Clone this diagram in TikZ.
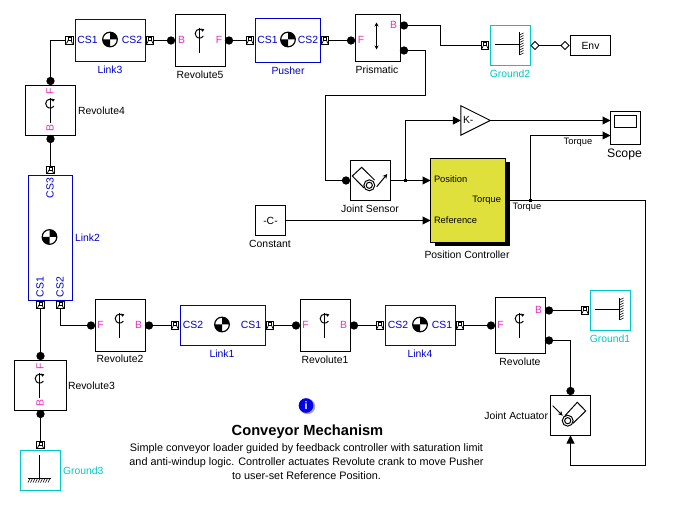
\documentclass[tikz,border=0pt]{standalone}
\usepackage{fontspec}
\setmainfont{Liberation Sans}
\usetikzlibrary{arrows.meta,shapes.geometric}
\definecolor{mblue}{RGB}{0,0,200}
\definecolor{mcyan}{RGB}{0,200,200}
\definecolor{mpink}{RGB}{228,50,190}
\definecolor{myellow}{RGB}{224,224,60}
\definecolor{iblue}{RGB}{0,0,235}
\tikzset{
  x=0.75pt,y=-0.75pt,
  every path/.style={line width=0.75pt},
  blockbox/.style={draw=black,fill=white,inner sep=0pt,outer sep=0pt,line width=0.75pt},
  bodybox/.style={blockbox,draw=mblue},
  gndbox/.style={blockbox,draw=mcyan},
  txt/.style={inner sep=0pt,outer sep=0pt,font=\fontsize{7.8pt}{9pt}\selectfont,text=black},
  btxt/.style={txt,text=mblue},
  ptxt/.style={txt,text=mpink},
  ctxt/.style={txt,text=mcyan},
  stxt/.style={txt,font=\fontsize{7pt}{9pt}\selectfont},
  dot/.style={circle,fill=black,draw=black,inner sep=0pt,outer sep=0pt,minimum size=5.4pt},
  junc/.style={rectangle,fill=black,inner sep=0pt,outer sep=0pt,minimum size=2.6pt},
  dia/.style={diamond,draw=black,fill=white,inner sep=0pt,outer sep=0pt,minimum size=6pt},
  port/.style={rectangle,draw=black,fill=white,inner sep=0pt,outer sep=0pt,minimum size=5.4pt,
    path picture={\begin{scope}[shift={(path picture bounding box.center)},rotate=#1]
      \draw[line width=0.55pt] (-1.2pt,0pt) rectangle (1.2pt,2.2pt);
      \draw[line width=0.55pt] (-1.2pt,0pt) -- (-2.2pt,-2.2pt) (1.2pt,0pt) -- (2.2pt,-2.2pt);
    \end{scope}}},
  port/.default=0,
  wire/.style={draw=black,line width=0.75pt},
  sig/.style={wire,-{Triangle[length=6pt,width=6pt]}},
  revicon/.pic={
    \draw (0,-6) -- (0,19);
    \draw (3.4,-3.6) arc[start angle=45,end angle=325,radius=3.4pt];
    \fill (4.8,-4.6) -- (1.6,-5.4) -- (3,-2.2) -- cycle;
  },
  massicon/.pic={
    \fill[white] (0,0) circle[radius=5.5pt];
    \fill (0,0) -- (5.5pt,0pt) arc[start angle=0,end angle=90,radius=5.5pt] -- cycle;
    \fill (0,0) -- (-5.5pt,0pt) arc[start angle=180,end angle=270,radius=5.5pt] -- cycle;
    \draw[line width=0.9pt] (0,0) circle[radius=5.5pt];
  },
}
\newcommand\blk[6][blockbox]{%
  \node[#1,minimum width={(#5-#3)*0.75pt},minimum height={(#6-#4)*0.75pt}] (#2) at ({(#3+#5)/2},{(#4+#6)/2}) {};}
\begin{document}
\begin{tikzpicture}
\fill[white] (0,0) rectangle (674,516);
\useasboundingbox (0,0) rectangle (674,516);

% wires first
\coordinate (c1) at (440.5,35);
\coordinate (c2) at (425.5,95.5);
\coordinate (c3) at (325.5,95.5);
\coordinate (c4) at (405.5,120.5);
\coordinate (c5) at (645.5,465.5);
\coordinate (c6) at (570.5,465.5);
\coordinate (c7) at (530.5,135.5);

% blocks
\blk[bodybox]{link3}{75.5}{19.5}{145.5}{61.5}
\blk{rev5}{175.5}{14.5}{225.5}{66.5}
\blk[bodybox]{pusher}{255.5}{18.5}{320.5}{62.5}
\blk{prism}{355.5}{14.5}{400.5}{61.5}
\blk[gndbox]{gnd2}{490.5}{25.5}{530.5}{65.5}
\blk{env}{570.5}{35.5}{610.5}{55.5}
\blk{rev4}{25.5}{85.5}{75.5}{135.5}
\blk[bodybox]{link2}{28.5}{175.5}{72.5}{300.5}
\blk{rev2}{95.5}{299.5}{145.5}{351.5}
\blk[bodybox]{link1}{180.5}{305.5}{265.5}{345.5}
\blk{rev1}{300.5}{299.5}{350.5}{351.5}
\blk[bodybox]{link4}{385.5}{305.5}{455.5}{345.5}
\blk{rev}{495.5}{297.5}{545.5}{353.5}
\blk[gndbox]{gnd1}{590.5}{290.5}{630.5}{330.5}
\blk{act}{550.5}{395.5}{590.5}{435.5}
\blk{rev3}{14.5}{360.5}{66.5}{410.5}
\blk[gndbox]{gnd3}{20.5}{450.5}{60.5}{490.5}
\blk{sensor}{350.5}{160.5}{390.5}{200.5}
\blk{const}{255.5}{205.5}{285.5}{235.5}
\blk{scope}{610.5}{111.5}{640.5}{144.5}
\fill (434.5,162.5) rectangle (510,246.5);
\blk[blockbox,fill=myellow]{ctrl}{430.5}{158.5}{505.5}{242.5}
\node[isosceles triangle,isosceles triangle apex angle=90,draw=black,fill=white,inner sep=0pt,outer sep=0pt,
  minimum height=22.1pt,isosceles triangle stretches,minimum width=22.1pt] (gain) at (470,120.5) {};

% icons
\pic at (110,39.5) {massicon};
\pic at (288,39.5) {massicon};
\pic at (49.5,237) {massicon};
\pic at (222,324.5) {massicon};
\pic at (420,324.5) {massicon};
\pic at (199.5,34) {revicon};
\pic at (50,104) {revicon};
\pic at (119.5,319) {revicon};
\pic at (324.5,319) {revicon};
\pic at (519.5,319) {revicon};
\pic at (39.5,379) {revicon};
\draw[{Stealth[length=3pt,width=3pt]}-{Stealth[length=3pt,width=3pt]}] (376.5,22.5) -- (376.5,49.5);
\draw[rounded corners=0] (614.5,115.5) rectangle (636.5,127.5);
% grounds
\draw (495,44.5) -- (519.5,44.5);
\draw[line width=0.9pt] (519.5,32.5) -- (519.5,55.5);
\foreach \v in {33,35.5,...,55} \draw[line width=0.45pt] (519.5,\v+2) -- (523.5,\v);
\draw (595,309.5) -- (619.5,309.5);
\draw[line width=0.9pt] (619.5,298.5) -- (619.5,320.5);
\foreach \v in {298,300.5,...,320} \draw[line width=0.45pt] (619.5,\v+2) -- (623.5,\v);
\draw (39.5,455) -- (39.5,478.5);
\draw[line width=0.9pt] (28,478.5) -- (50.5,478.5);
\foreach \u in {28,30.5,...,50} \draw[line width=0.45pt] (\u,482.5) -- (\u+2,478.5);
% sensor icon
\draw (374.5,180) -- (361.7,167.3) -- (352.3,176) -- (364,188);
\draw (369.3,185.3) circle[radius=4.1pt] (369.3,185.3) circle[radius=2.3pt];
\draw[-{Stealth[length=3.5pt,width=3.5pt]}] (376.7,186.7) -- (387.3,174);
% actuator icon
\draw (565,415.7) -- (577.3,402.3) -- (585.7,411) -- (573,423.3);
\draw (567.7,420.7) circle[radius=4.1pt] (567.7,420.7) circle[radius=2.3pt];
\draw[-{Stealth[length=3.5pt,width=3.5pt]}] (552.7,405.7) -- (562.7,415.7);

% ports and dots
\node[port] (pL3a) at (69.5,40.5) {};
\node[port] (pL3b) at (150,40.5) {};
\node[dot] (dR5b) at (171,40.5) {};
\node[dot] (dR5f) at (229,40.5) {};
\node[port] (pPa) at (250,40.5) {};
\node[port] (pPb) at (325,40.5) {};
\node[dot] (dPrF) at (351,40.5) {};
\node[dot] (dPrB) at (404,25.5) {};
\node[dot] (dPrR) at (404,50.5) {};
\node[port] (pG2) at (485,45.5) {};
\node[dia] (dG2) at (535,45.5) {};
\node[dia] (dEnv) at (565,45.5) {};
\node[dot] (dR4f) at (50.5,81) {};
\node[dot] (dR4b) at (50.5,139) {};
\node[port=-90] (pL2t) at (50.5,170) {};
\node[port=-90] (pL2a) at (40.5,305) {};
\node[port=-90] (pL2b) at (60.5,305) {};
\node[dot] (dR2f) at (91,325.5) {};
\node[dot] (dR2b) at (149,325.5) {};
\node[port] (pL1a) at (175,325.5) {};
\node[port] (pL1b) at (270,325.5) {};
\node[dot] (dR1f) at (296,325.5) {};
\node[dot] (dR1b) at (354,325.5) {};
\node[port] (pL4a) at (380,325.5) {};
\node[port] (pL4b) at (460,325.5) {};
\node[dot] (dRf) at (491,325.5) {};
\node[dot] (dRb) at (549,310.5) {};
\node[dot] (dRr) at (549,340.5) {};
\node[port] (pG1) at (585,310.5) {};
\node[dot] (dAct) at (570.5,391) {};
\node[dot] (dR3f) at (40.5,356) {};
\node[dot] (dR3b) at (40.5,414) {};
\node[port=-90] (pG3) at (40.5,445) {};
\node[dot] (dJS) at (346,180.5) {};
\node[junc] (j1) at (405.5,180.5) {};
\node[junc] (j2) at (530.5,200.5) {};

% connectors
\draw[wire] (pL3a.west) -| (dR4f.north);
\draw[wire] (pL3b.east) -- (dR5b.west);
\draw[wire] (dR5f.east) -- (pPa.west);
\draw[wire] (pPb.east) -- (dPrF.west);
\draw[wire] (dPrB.east) -| (c1) |- (pG2.west);
\draw[wire] (dPrR.east) -| (c2) -- (c3) |- (dJS.west);
\draw[wire] (dG2.east) -- (dEnv.west);
\draw[wire] (dR4b.south) -- (pL2t.north);
\draw[wire] (pL2a.south) -- (dR3f.north);
\draw[wire] (pL2b.south) |- (dR2f.west);
\draw[wire] (dR2b.east) -- (pL1a.west);
\draw[wire] (pL1b.east) -- (dR1f.west);
\draw[wire] (dR1b.east) -- (pL4a.west);
\draw[wire] (pL4b.east) -- (dRf.west);
\draw[wire] (dRb.east) -- (pG1.west);
\draw[wire] (dRr.east) -| (dAct.north);
\draw[wire] (dR3b.south) -- (pG3.north);
\draw[sig] (sensor.east) -- (ctrl.west |- sensor.east);
\draw[sig] (j1.center) -- (c4) -- (gain.west);
\draw[sig] (gain.east) -- (scope.west |- gain.east);
\draw[sig] (const.east) -- (ctrl.west |- const.east);
\draw[sig] (ctrl.east |- j2) -- (j2.center) -- (c5 |- j2) -- (c5) -- (c6) -- (act.south);
\draw[sig] (j2.center) -- (c7) -- (scope.west |- c7);

% texts on blocks
\node[btxt] (t1) at (87.5,40) {CS1};
\node[btxt] (t2) at (132,40) {CS2};
\node[btxt] (t3) at (267.5,40) {CS1};
\node[btxt] (t4) at (308,40) {CS2};
\node[btxt,rotate=90] (t5) at (50,188) {CS3};
\node[btxt,rotate=90] (t6) at (40,287) {CS1};
\node[btxt,rotate=90] (t7) at (60,287) {CS2};
\node[btxt] (t8) at (193,325) {CS2};
\node[btxt] (t9) at (251,325) {CS1};
\node[btxt] (t10) at (398,325) {CS2};
\node[btxt] (t11) at (442,325) {CS1};
\node[ptxt] (a1) at (181.5,40) {B};
\node[ptxt] (a2) at (219,40) {F};
\node[ptxt] (a3) at (361,40) {F};
\node[ptxt] (a4) at (393.5,25) {B};
\node[ptxt,rotate=90] (a5) at (50,91) {F};
\node[ptxt,rotate=90] (a6) at (50,128.5) {B};
\node[ptxt] (a7) at (100.5,325) {F};
\node[ptxt] (a8) at (138.5,325) {B};
\node[ptxt] (a9) at (305.5,325) {F};
\node[ptxt] (a10) at (343.5,325) {B};
\node[ptxt] (a11) at (500.5,325) {F};
\node[ptxt] (a12) at (538.5,309.5) {B};
\node[ptxt,rotate=90] (a13) at (40,366) {F};
\node[ptxt,rotate=90] (a14) at (40,403.5) {B};
\node[txt] (te) at (env) {Env};
\node[txt] (tc) at (const) {-C-};
\node[txt,anchor=west] (tk) at (463,120) {K-};
\node[stxt,anchor=west] (l1) at (434,179.5) {Position};
\node[stxt,anchor=east] (l2) at (501,200) {Torque};
\node[stxt,anchor=west] (l3) at (434,220) {Reference};

% labels
\node[btxt] (n1) at (110,69.5) {Link3};
\node[txt] (n2) at (200,74.5) {Revolute5};
\node[btxt] (n3) at (288,70.5) {Pusher};
\node[txt] (n4) at (377,69.5) {Prismatic};
\node[ctxt] (n5) at (510,73.5) {Ground2};
\node[txt,anchor=west] (n6) at (78,110.5) {Revolute4};
\node[btxt,anchor=west] (n7) at (75,237.5) {Link2};
\node[txt] (n8) at (120,359) {Revolute2};
\node[btxt] (n9) at (222,353.5) {Link1};
\node[txt] (n10) at (325,359.5) {Revolute1};
\node[btxt] (n11) at (420,353.5) {Link4};
\node[txt] (n12) at (520,361.5) {Revolute};
\node[ctxt] (n13) at (610,338.5) {Ground1};
\node[txt,anchor=east] (n14) at (548,415.5) {Joint Actuator};
\node[txt,anchor=west] (n15) at (68,386) {Revolute3};
\node[ctxt,anchor=west] (n16) at (63,470.5) {Ground3};
\node[txt] (n17) at (370,209) {Joint Sensor};
\node[txt] (n18) at (270,244) {Constant};
\node[txt] (n19) at (467,255) {Position Controller};
\node[stxt] (n20) at (527,207) {Torque};
\node[stxt] (n21) at (578,142) {Torque};
\node[txt,font=\fontsize{9.2pt}{11pt}\selectfont] (n22) at (624.5,154) {Scope};

% info
\fill[black!35] (307.5,406.5) circle[radius=5.8pt];
\fill[iblue] (306,405.5) circle[radius=5.5pt];
\node[txt,text=white,font=\bfseries\fontsize{8pt}{9pt}\selectfont] (inf) at (306,405.5) {i};
\node[txt,font=\bfseries\fontsize{11pt}{13pt}\selectfont] (title) at (307.5,432) {Conveyor Mechanism};
\node[txt,font=\fontsize{8.13pt}{10.5pt}\selectfont,align=center,anchor=north] (desc) at (306.5,443.5) {Simple conveyor loader guided by feedback controller with saturation limit\\and anti-windup logic. Controller actuates Revolute crank to move Pusher\\to user-set Reference Position.};
\end{tikzpicture}
\end{document}
